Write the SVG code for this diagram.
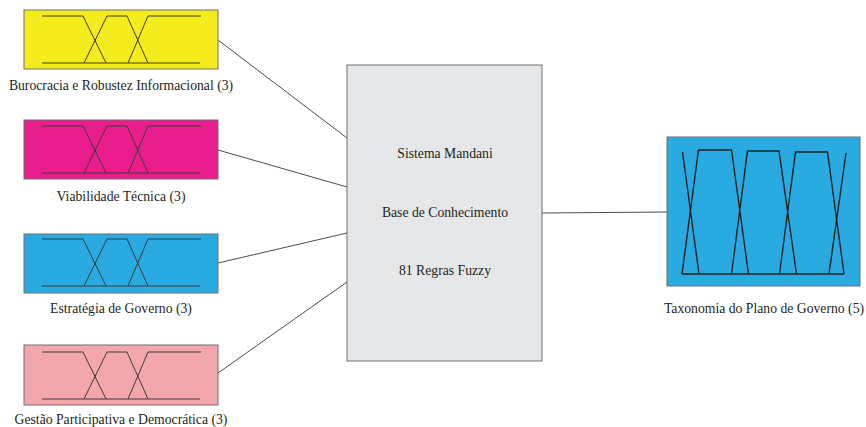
<svg xmlns="http://www.w3.org/2000/svg" width="866" height="427" viewBox="0 0 866 427">
<style>
text{font-family:"Liberation Serif","DejaVu Serif",serif;font-size:13.7px;fill:#231f20;text-anchor:middle}
.box{stroke:#6d6e71;stroke-width:1}
.mf{fill:none;stroke:#3a3a3a;stroke-width:1}
.mf2{fill:none;stroke:#231f20;stroke-width:1.4}
.con{stroke:#4d4d4d;stroke-width:1;fill:none}
</style>
<defs>
<g id="mf3">
<path class="mf" d="M42,0 H83 L106,47 M84,47 L107,0 H127 L148,47 M128,47 L148,0 H201 M42,47 H200"/>
</g>
</defs>
<rect width="866" height="427" fill="#ffffff"/>
<g id="connectors">
<line class="con" x1="218" y1="40" x2="347" y2="138"/>
<line class="con" x1="218" y1="150" x2="347" y2="187"/>
<line class="con" x1="218" y1="263" x2="347" y2="233"/>
<line class="con" x1="218" y1="373" x2="347" y2="282"/>
<line class="con" x1="542" y1="213" x2="667" y2="212"/>
</g>
<g id="burocracia">
<rect class="box" x="24" y="10" width="194" height="59" fill="#f5ec1e"/>
<use href="#mf3" y="16"/>
<text x="121" y="90">Burocracia e Robustez Informacional (3)</text>
</g>
<g id="viabilidade">
<rect class="box" x="24" y="120" width="194" height="59" fill="#e91e8c"/>
<use href="#mf3" y="126"/>
<text x="121" y="201">Viabilidade Técnica (3)</text>
</g>
<g id="estrategia">
<rect class="box" x="24" y="234" width="194" height="59" fill="#29abe2"/>
<use href="#mf3" y="239"/>
<text x="121" y="313">Estratégia de Governo (3)</text>
</g>
<g id="gestao">
<rect class="box" x="24" y="345" width="194" height="60" fill="#f4a6ad"/>
<use href="#mf3" y="352"/>
<text x="121" y="424">Gestão Participativa e Democrática (3)</text>
</g>
<g id="sistema">
<rect class="box" x="347" y="65" width="195" height="296" fill="#e6e7e8"/>
<text x="445" y="158">Sistema Mandani</text>
<text x="445" y="217">Base de Conhecimento</text>
<text x="445" y="275">81 Regras Fuzzy</text>
</g>
<g id="taxonomia">
<rect class="box" x="667" y="137" width="193" height="149" fill="#29abe2"/>
<path class="mf2" d="M682.5,152 L699,274 M682,274 L698.5,150 H731.5 L748.5,274 M731.5,274 L747.5,151 H779 L796.5,274 M779.5,274 L795.5,152 H827.5 L844,274 M829,274 L846,153 M682,274 H844"/>
<text x="764" y="313">Taxonomia do Plano de Governo (5)</text>
</g>
</svg>
